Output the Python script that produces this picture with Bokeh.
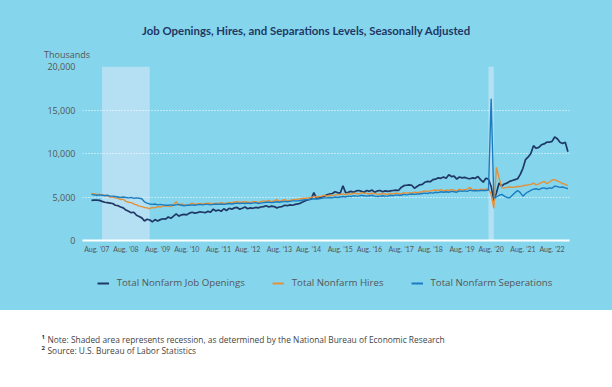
import pandas as pd
from bokeh.plotting import figure
from bokeh.models import (Range1d, FixedTicker, Legend, LegendItem, Title, Div,
                          NumeralTickFormatter)
from bokeh.layouts import column
from bokeh.embed import file_html
from bokeh.resources import INLINE

# ---------------- data (thousands, seasonally adjusted) ----------------
START_MONTH = "2007-08"
END_MONTH = "2022-08"

OPENINGS = [
    4620, 4640, 4630, 4610, 4500,
    4400, 4350, 4300, 4250, 4050, 4000, 3850, 3750, 3500, 3350, 3200, 3250,
    2900, 2750, 2600, 2250, 2450, 2350, 2150, 2400, 2250, 2400, 2500, 2450,
    2700, 2550, 2800, 3050, 2800, 2950, 3000, 2950, 3150, 3250, 3150, 3200,
    3300, 3250, 3200, 3350, 3250, 3600, 3400, 3500, 3350, 3650, 3450, 3700,
    3600, 3750, 3800, 3600, 3700, 3850, 3650, 3750, 3700, 3800, 3750, 3850,
    3900, 4000, 3850, 3950, 3900, 3750, 3850, 3900, 4050, 4000, 4100, 4050,
    4150, 4200, 4300, 4450, 4600, 4700, 4750, 5500, 4850, 4900, 5000, 5100,
    5250, 5350, 5400, 5600, 5500, 5450, 6300, 5500, 5550, 5650, 5550, 5700,
    5750, 5650, 5550, 5750, 5650, 5800, 5550, 5700, 5750, 5600, 5700, 5650,
    5700, 5750, 5800, 5750, 6100, 6300, 6350, 6400, 6350, 6000, 6200, 6400,
    6450, 6700, 6800, 6750, 7000, 7050, 7200, 7150, 7300, 7150, 7550, 7350,
    7400, 7050, 7300, 7200, 7250, 7150, 7100, 7200, 7150, 7350, 7000, 6700,
    7150, 7050, 6200, 4600, 5500, 6600, 6250, 6500, 6600, 6800, 6900, 7000,
    7100, 7600, 8300, 9300, 9600, 10000, 10900, 10600, 10700, 11000, 11100, 11300,
    11300, 11400, 11900, 11700, 11300, 11150, 11300, 10200,
]

HIRES = [
    5400, 5350, 5300, 5300, 5250,
    5200, 5150, 5000, 5000, 4900, 4850, 4700, 4750, 4500, 4400, 4350, 4200,
    4100, 3950, 3900, 3800, 3750, 3650, 3800, 3750, 3900, 3850, 3950, 4000,
    3950, 3900, 4100, 4450, 4050, 4200, 4100, 4050, 4150, 4300, 4150, 4200,
    4250, 4200, 4250, 4300, 4250, 4200, 4300, 4250, 4350, 4250, 4300, 4350,
    4350, 4400, 4450, 4400, 4400, 4450, 4400, 4350, 4450, 4450, 4350, 4450,
    4550, 4500, 4600, 4450, 4550, 4700, 4500, 4600, 4700, 4550, 4600, 4700,
    4700, 4750, 4800, 4850, 4850, 4900, 4950, 5050, 5000, 5050, 5100, 5200,
    5100, 5200, 5150, 5250, 5250, 5300, 5350, 5250, 5400, 5300, 5450, 5400,
    5350, 5500, 5450, 5400, 5350, 5450, 5400, 5300, 5350, 5400, 5350, 5300,
    5400, 5350, 5450, 5400, 5350, 5500, 5450, 5500, 5450, 5550, 5500, 5550,
    5600, 5700, 5650, 5700, 5750, 5800, 5750, 5850, 5700, 5800, 5750, 5850,
    5800, 5700, 5900, 5800, 5850, 5900, 6100, 5800, 5850, 5800, 5900, 5850,
    5900, 5950, 5300, 3700, 8400, 7200, 6050, 6050, 6100, 6150, 6100, 6150,
    6200, 6200, 6300, 6350, 6400, 6450, 6600, 6400, 6500, 6650, 6800, 6550,
    6700, 6950, 7000, 6850, 6700, 6550, 6450, 6300,
]

SEPARATIONS = [
    5300, 5250, 5200, 5250, 5200,
    5150, 5200, 5100, 5100, 5050, 5000, 4950, 5000, 4950, 4900, 4950, 4850,
    4900, 4850, 4800, 4450, 4300, 4200, 4150, 4200, 4100, 4150, 4100, 4050,
    4050, 4100, 4050, 4100, 4150, 4050, 4000, 4050, 4050, 4100, 4050, 4100,
    4150, 4100, 4150, 4150, 4100, 4150, 4200, 4150, 4200, 4150, 4200, 4250,
    4200, 4250, 4300, 4250, 4300, 4250, 4300, 4250, 4300, 4350, 4250, 4300,
    4350, 4400, 4400, 4350, 4400, 4450, 4400, 4450, 4500, 4450, 4500, 4550,
    4550, 4550, 4600, 4650, 4700, 4700, 4750, 4800, 4750, 4800, 4850, 4900,
    4900, 4950, 4900, 5000, 4950, 5000, 5050, 5000, 5100, 5050, 5150, 5100,
    5100, 5200, 5150, 5100, 5150, 5200, 5100, 5050, 5100, 5150, 5100, 5100,
    5200, 5150, 5250, 5200, 5200, 5300, 5250, 5300, 5350, 5300, 5350, 5350,
    5400, 5450, 5400, 5500, 5450, 5550, 5500, 5600, 5550, 5600, 5550, 5650,
    5600, 5550, 5700, 5650, 5700, 5650, 5800, 5700, 5750, 5700, 5750, 5750,
    5750, 5800, 16300, 4900, 5000, 5200, 5300, 5100, 4950, 4900, 5200, 5500,
    5750, 5500, 5100, 5400, 5600, 5750, 5900, 5950, 5850, 6000, 6050, 5950,
    6050, 6000, 6250, 6200, 6100, 6150, 6050, 5950,
]

SERIES_NAMES = ["Total Nonfarm Job Openings", "Total Nonfarm Hires",
                "Total Nonfarm Seperations"]

RECESSIONS = [("2007-12", "2009-06"), ("2020-02", "2020-04")]

Y_TICKS = [0, 5000, 10000, 15000, 20000]
X_TICK_LABELS = ["Aug. \u201907", "Aug. \u201908", "Aug. \u201909", "Aug. \u201910",
                 "Aug. \u201911", "Aug. \u201912", "Aug. \u201913", "Aug. \u201914",
                 "Aug. \u201915", "Aug. \u201916", "Aug. \u201917", "Aug. \u201918",
                 "Aug. \u201919", "Aug. \u201920", "Aug. \u201921", "Aug. \u201922"]

TITLE = "Job Openings, Hires, and Separations Levels, Seasonally Adjusted"
Y_UNIT = "Thousands"
NOTES = ["Note: Shaded area represents recession, as determined by the National Bureau of Economic Research",
         "Source: U.S. Bureau of Labor Statistics"]

# ---------------- styling ----------------
BG = "#85d6ed"
SHADE = "#b5e0f3"
NAVY = "#1f3864"
ORANGE = "#e3913a"
BLUE = "#1b7cc0"
TXT = "#555555"
FONT = "Lato"
COLORS = [NAVY, ORANGE, BLUE]
WIDTHS = [1.7, 1.4, 1.4]
SERIES = [OPENINGS, HIRES, SEPARATIONS]

months = pd.period_range(START_MONTH, END_MONTH, freq="M")
x = list(range(len(months)))

p = figure(frame_width=487, frame_height=174, output_backend="svg",
           toolbar_location=None,
           x_range=Range1d(-3.4, len(months) - 0.4), y_range=Range1d(0, 20000),
           min_border_left=82, min_border_right=43, min_border_top=66,
           min_border_bottom=22)
p.background_fill_color = None
p.border_fill_color = BG
p.outline_line_color = None

# recession shading
for start, end in RECESSIONS:
    s = months.get_loc(pd.Period(start, freq="M"))
    e = months.get_loc(pd.Period(end, freq="M"))
    p.quad(left=s, right=e, bottom=Y_TICKS[0], top=Y_TICKS[-1],
           fill_color=SHADE, line_color=None, level="underlay")

for series, c, w in zip(SERIES, COLORS, WIDTHS):
    p.line(x, series, line_color=c, line_width=w)

# axes
p.xgrid.visible = False
p.ygrid.ticker = FixedTicker(ticks=Y_TICKS)
p.ygrid.grid_line_color = "white"
p.ygrid.grid_line_dash = "1 2"
p.ygrid.grid_line_width = 1.2

for ax in (p.xaxis, p.yaxis):
    ax.major_tick_line_color = None
    ax.minor_tick_line_color = None
    ax.major_tick_out = 0
    ax.major_tick_in = 0
    ax.minor_tick_out = 0
    ax.minor_tick_in = 0
    ax.major_label_text_color = TXT

p.yaxis.ticker = FixedTicker(ticks=Y_TICKS)
p.yaxis.formatter = NumeralTickFormatter(format="0,0")
p.yaxis.axis_line_color = None
p.yaxis.major_label_standoff = 7
p.yaxis.major_label_text_font = "Open Sans"
p.yaxis.major_label_text_font_size = "9px"

tick_pos = [round(1.8 + 11.5 * k) for k in range(len(X_TICK_LABELS))]
p.xaxis.ticker = FixedTicker(ticks=tick_pos)
p.xaxis.major_label_overrides = {t: lab for t, lab in zip(tick_pos, X_TICK_LABELS)}
p.xaxis.axis_line_color = "white"
p.xaxis.axis_line_width = 2
p.xaxis.major_label_standoff = 4
p.xaxis.major_label_text_font = FONT
p.xaxis.major_label_text_font_size = "7px"

# unit label (nearest the frame) and chart title (outermost) in the top panel
p.add_layout(Title(text=Y_UNIT, align="left", offset=-38.5, standoff=12,
                   text_font="Open Sans", text_font_style="normal",
                   text_font_size="9px", text_color=TXT), "above")
p.add_layout(Title(text=TITLE, align="left", offset=59.5, standoff=6,
                   text_font=FONT, text_font_style="bold",
                   text_font_size="11.4px", text_color=NAVY), "above")

# legend strip (same horizontal frame as the chart)
lf = figure(frame_width=487, frame_height=48, output_backend="svg",
            toolbar_location=None, x_axis_type=None, y_axis_type=None,
            x_range=Range1d(-1000, -999), y_range=Range1d(-1000, -999),
            min_border_left=82, min_border_right=43, min_border_top=0,
            min_border_bottom=0)
lf.background_fill_color = None
lf.border_fill_color = BG
lf.outline_line_color = None
# same series drawn off-view, used only as legend keys
proxies = [lf.line(x, s, line_color=c, line_width=2) for s, c in zip(SERIES, COLORS)]
legend = Legend(items=[LegendItem(label=n, renderers=[r])
                       for n, r in zip(SERIES_NAMES, proxies)],
                orientation="horizontal", location=(14.7, 19.3),
                glyph_width=12, glyph_height=16, label_height=16,
                label_standoff=8, spacing=27, padding=0, margin=0,
                background_fill_alpha=0, border_line_alpha=0,
                label_text_font="Open Sans", label_text_font_size="9.7px",
                label_text_color=TXT)
lf.add_layout(legend, "center")

# footnotes
notes_html = "".join(
    f'<div style="position:relative;padding-left:6px;">'
    f'<span style="position:absolute;left:0;top:-2px;font-size:6px;font-weight:bold;color:#333;">{i + 1}</span>{n}</div>'
    for i, n in enumerate(NOTES))
foot = Div(text=notes_html, width=612, height=77,
           styles={"font-family": "Open Sans", "font-size": "8.4px", "color": "#444444",
                   "line-height": "11.7px", "padding-top": "23.5px",
                   "padding-left": "41.5px", "box-sizing": "border-box",
                   "background-color": "white", "margin": "0"})

layout = column(p, lf, foot, spacing=0, styles={"background-color": BG})
html = file_html(layout, INLINE, title="JOLTS")
html = html.replace("<body>", '<body style="margin:0;">', 1)
open("out.html", "w").write(html)
